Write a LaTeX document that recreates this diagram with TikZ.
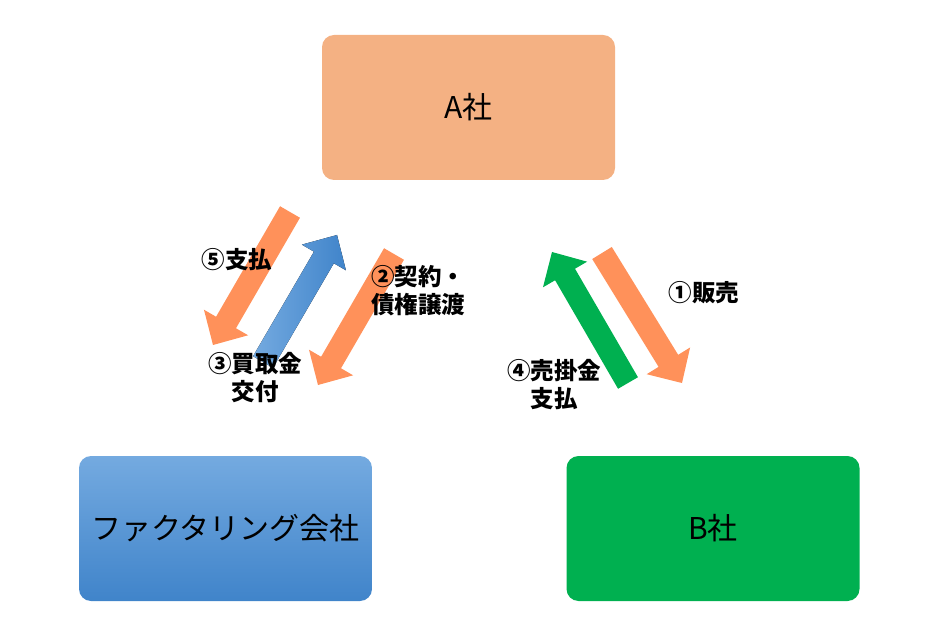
\documentclass[tikz,border=0pt]{standalone}
\usepackage{fontspec}
\setmainfont{Noto Sans CJK JP}
\usetikzlibrary{calc}

\definecolor{boxorange}{RGB}{244,177,131}
\definecolor{arroworange}{RGB}{255,145,90}
\definecolor{bgreen}{RGB}{0,176,80}
\definecolor{bluelight}{RGB}{116,170,224}
\definecolor{bluedark}{RGB}{64,132,202}

\tikzset{
  corp/.style={rounded corners=12pt, minimum width=293pt, minimum height=145pt,
    font=\fontsize{30}{34}\selectfont},
  lbl/.style={font=\fontsize{23.5}{28}\selectfont\bfseries, align=center, inner sep=0pt},
}

% block arrow from tail #1 to tip #2
\newcommand{\blockarrow}[3]{%
  \coordinate (hb) at ($(#2)!26pt!(#1)$);
  \fill[#3] ($(#1)!11.5pt!90:(#2)$) -- ($(hb)!11.5pt!-90:(#1)$) -- ($(hb)!25.5pt!-90:(#1)$)
    -- (#2) -- ($(hb)!25.5pt!90:(#1)$) -- ($(hb)!11.5pt!90:(#1)$)
    -- ($(#1)!11.5pt!-90:(#2)$) -- cycle;
}

\begin{document}
\begin{tikzpicture}[x=1pt,y=-1pt]
\useasboundingbox (0,0) rectangle (948,628);

% Nodes
\node[corp, fill=boxorange] (Acorp) at (468.5,107.5) {A社};
\node[corp, top color=bluelight, bottom color=bluedark] (Fcorp) at (225.5,528.5) {ファクタリング会社};
\node[corp, fill=bgreen] (Bcorp) at (713,528.5) {B社};

% Arrow ends
\coordinate (pay5t) at (290,212);
\coordinate (pay5h) at (213,345);
\coordinate (buyt) at (263,362);
\coordinate (buyh) at (337,235);
\coordinate (contt) at (394,254);
\coordinate (conth) at (318,385);
\coordinate (sellt) at (602,253);
\coordinate (sellh) at (682,383);
\coordinate (pay4t) at (628,383);
\coordinate (pay4h) at (552,252);

% Arrows
\blockarrow{pay5t}{pay5h}{arroworange}
\blockarrow{buyt}{buyh}{left color=bluelight, right color=bluedark}
\blockarrow{contt}{conth}{arroworange}
\blockarrow{sellt}{sellh}{arroworange}
\blockarrow{pay4t}{pay4h}{bgreen}

% Labels
\node[lbl] (pay5) at (237,260) {⑤支払};
\node[lbl] (cont) at (418,291) {②契約・\\債権譲渡};
\node[lbl] (buy) at (255,378) {③買取金\\交付};
\node[lbl] (sell) at (704,293) {①販売};
\node[lbl] (pay4) at (554,385) {④売掛金\\支払};
\end{tikzpicture}
\end{document}
